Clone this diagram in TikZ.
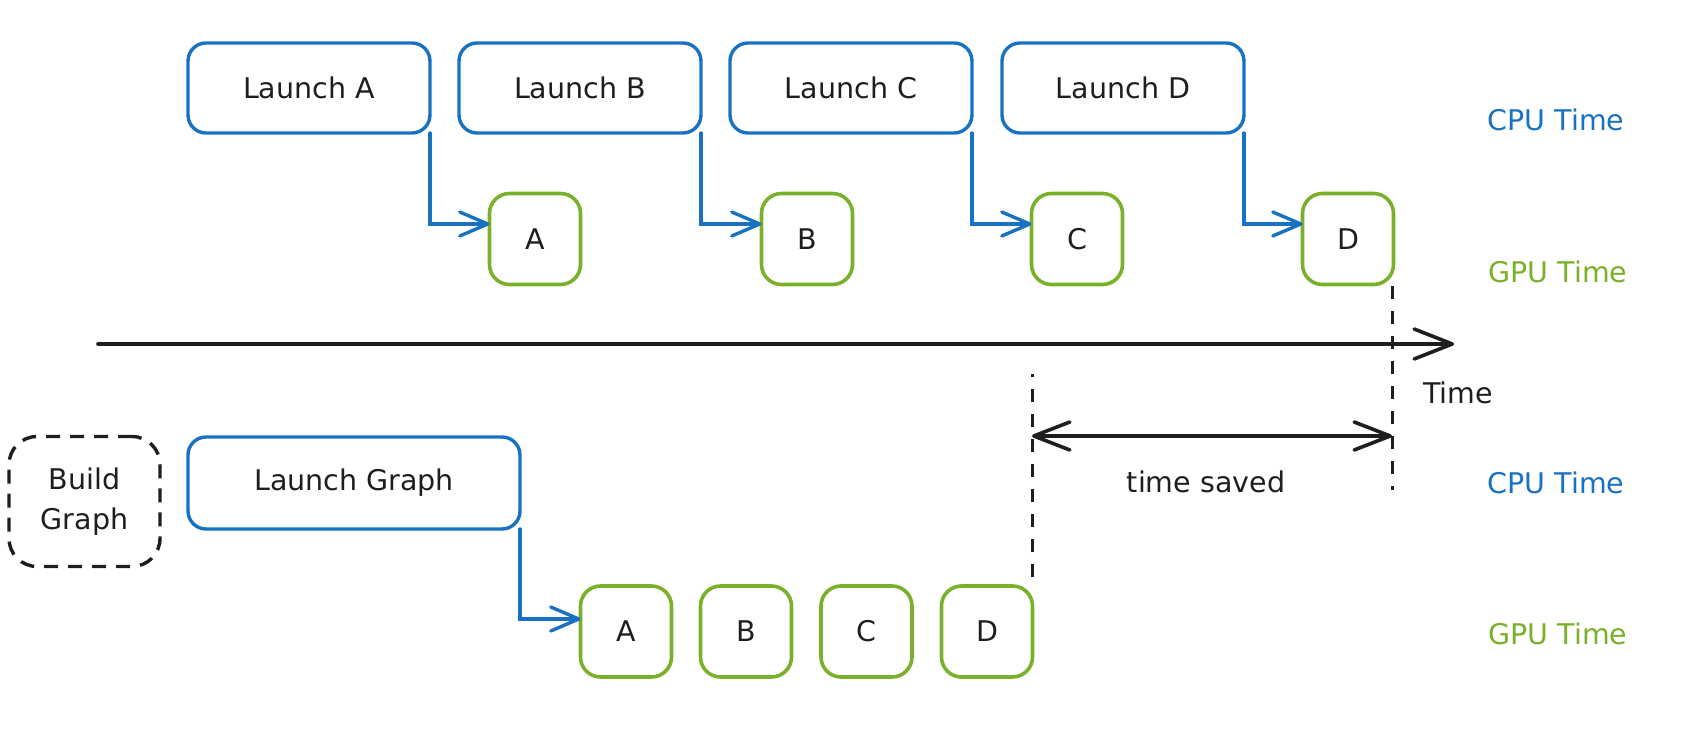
\documentclass[tikz,border=0pt]{standalone}
\usepackage{fontspec}
\newfontfamily\handfont{DejaVu Sans}
\usetikzlibrary{arrows.meta}
\definecolor{cpublue}{RGB}{25,113,194}
\definecolor{gpugreen}{RGB}{122,176,42}
\definecolor{inkblack}{RGB}{30,30,30}
\begin{document}
\begin{tikzpicture}[x=1pt,y=-1pt,
  every node/.style={font=\handfont\fontsize{28.5}{40}\selectfont, text=inkblack, inner sep=0pt, outer sep=0pt},
  cpubox/.style={draw=cpublue, line width=3.4pt, rounded corners=18pt, minimum width=242pt, minimum height=90pt},
  gpubox/.style={draw=gpugreen, line width=3.6pt, rounded corners=20pt, minimum width=91pt, minimum height=91pt},
  buildbox/.style={draw=inkblack, line width=3.4pt, dash pattern=on 14pt off 10pt, rounded corners=28pt, minimum width=151pt, minimum height=130pt, align=center},
  launcharrow/.style={draw=cpublue, line width=3.4pt, line cap=round, -{Straight Barb[length=28pt,width=24pt,line width=3.4pt,round]}},
  axisarrow/.style={draw=inkblack, line width=3.6pt, line cap=round, -{Straight Barb[length=38pt,width=30pt,line width=3.6pt,round]}},
  savedarrow/.style={draw=inkblack, line width=3.6pt, line cap=round, {Straight Barb[length=36pt,width=28pt,line width=3.6pt,round]}-{Straight Barb[length=36pt,width=28pt,line width=3.6pt,round]}},
  markline/.style={draw=inkblack, line width=3pt, dash pattern=on 13pt off 12pt},
  cpulabel/.style={text=cpublue},
  gpulabel/.style={text=gpugreen}
]
\useasboundingbox (0,0) rectangle (1701,743);

% top row: CPU launches
\node[cpubox] (la) at (309,88) {Launch A};
\node[cpubox] (lb) at (580,88) {Launch B};
\node[cpubox] (lc) at (851,88) {Launch C};
\node[cpubox] (ld) at (1123,88) {Launch D};

% top row: GPU kernels
\node[gpubox] (ga) at (535,239) {A};
\node[gpubox] (gb) at (807,239) {B};
\node[gpubox] (gc) at (1077,239) {C};
\node[gpubox] (gd) at (1348,239) {D};

\draw[launcharrow] (la.south east) |- ([yshift=15pt]ga.west);
\draw[launcharrow] (lb.south east) |- ([yshift=15pt]gb.west);
\draw[launcharrow] (lc.south east) |- ([yshift=15pt]gc.west);
\draw[launcharrow] (ld.south east) |- ([yshift=15pt]gd.west);

\node[cpulabel] (cpu1) at (1556,120) {CPU Time};
\node[gpulabel] (gpu1) at (1558,272) {GPU Time};

% time axis
\coordinate (t0) at (98,344);
\coordinate (t1) at (1454,344);
\draw[axisarrow] (t0) -- (t1);
\node (tlab) at (1458,393) {Time};

% bottom row
\node[buildbox] (build) at (84.5,501.5) {Build\\Graph};
\node[cpubox, minimum width=332pt, minimum height=92pt] (lg) at (354,483) {Launch Graph};

\node[gpubox] (ba) at (626,631.5) {A};
\node[gpubox] (bb) at (746,631.5) {B};
\node[gpubox] (bc) at (866.5,631.5) {C};
\node[gpubox] (bd) at (987,631.5) {D};

\draw[launcharrow] (lg.south east) |- ([yshift=12.5pt]ba.west);

\node[cpulabel] (cpu2) at (1556,483) {CPU Time};
\node[gpulabel] (gpu2) at (1558,634) {GPU Time};

% time saved markers
\coordinate (rtop) at (1392,286);
\coordinate (rbot) at (1392,490);
\coordinate (ltop) at (1032,374);
\coordinate (lbot) at (1032,577);
\draw[markline] (rtop) -- (rbot);
\draw[markline] (lbot) -- (ltop);
\coordinate (sl) at (1032,436);
\coordinate (sr) at (1392,436);
\draw[savedarrow] (sl) -- (sr);
\node (saved) at (1206,482) {time saved};
\end{tikzpicture}
\end{document}
